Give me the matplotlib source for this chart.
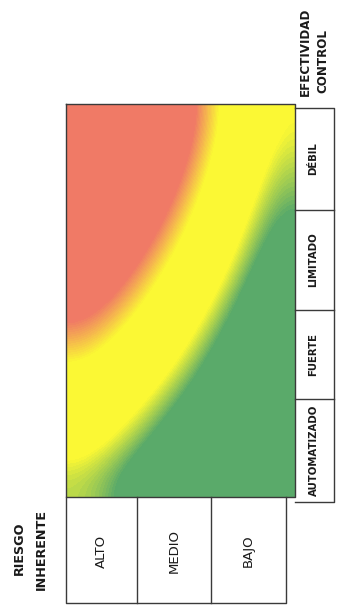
import numpy as np
import matplotlib
matplotlib.use("Agg")
import matplotlib.pyplot as plt
from matplotlib.colors import LinearSegmentedColormap

# ---- data ----
riesgo_labels = ["ALTO", "MEDIO", "BAJO"]
control_labels = ["DÉBIL", "LIMITADO", "FUERTE", "AUTOMATIZADO"]
row_title = ["RIESGO", "INHERENTE"]
col_title = ["EFECTIVIDAD", "CONTROL"]

# risk level (about 3 = red, 2 = yellow, 1 = green)
# rows: DÉBIL (top) -> AUTOMATIZADO (bottom); columns: ALTO (left) -> BAJO (right)
risk_level = np.array([
    [3.87, 3.43, 2.98, 2.52, 2.06, 1.64],
    [3.64, 3.27, 2.85, 2.41, 1.96, 1.53],
    [3.39, 3.06, 2.67, 2.26, 1.82, 1.40],
    [3.12, 2.83, 2.47, 2.08, 1.66, 1.25],
    [2.85, 2.59, 2.25, 1.88, 1.48, 1.08],
    [2.58, 2.34, 2.02, 1.67, 1.28, 0.90],
    [2.31, 2.08, 1.79, 1.45, 1.08, 0.70],
    [2.03, 1.82, 1.54, 1.22, 0.86, 0.48],
    [1.78, 1.58, 1.29, 0.98, 0.63, 0.27],
    [1.54, 1.34, 1.04, 0.74, 0.40, 0.05],
])

red = "#F07A66"
yellow = "#FBF834"
green = "#5AAA6A"
cmap = LinearSegmentedColormap.from_list(
    "riesgo",
    [(0.0, green), (0.345, green), (0.41, yellow), (0.57, yellow),
     (0.64, red), (1.0, red)])

fam = ["DejaVu Sans"]

fig = plt.figure(figsize=(3.37, 6.09), dpi=100)
ax = fig.add_axes([0, 0, 1, 1])
ax.set_xlim(0, 337)
ax.set_ylim(609, 0)
ax.axis("off")

# heat map
hx0, hx1, hy0, hy1 = 66, 295, 104, 497
ax.imshow(risk_level, cmap=cmap, vmin=0, vmax=4, extent=(hx0, hx1, hy1, hy0),
          origin="upper", aspect="auto", interpolation="bicubic",
          interpolation_stage="data", zorder=1)

lc = "#3a3a3a"
lw = 1.0
ax.plot([hx0, hx1, hx1, hx0, hx0], [hy0, hy0, hy1, hy1, hy0], color=lc, lw=lw, zorder=3)

# control column
cx0, cx1 = 295, 334
cy = [108, 210, 310, 399, 502]
ax.plot([cx0, cx1, cx1, cx0], [cy[0], cy[0], cy[-1], cy[-1]], color=lc, lw=lw, zorder=3)
for yy in cy[1:-1]:
    ax.plot([cx0, cx1], [yy, yy], color=lc, lw=lw, zorder=3)
for lab, a, b in zip(control_labels, cy[:-1], cy[1:]):
    ax.text((cx0 + cx1) / 2 - 1, (a + b) / 2, lab, rotation=90, ha="center", va="center",
            fontsize=7.3, fontweight="bold", family=fam, color="#1a1a1a")

# riesgo row
rx = [66, 137, 211, 286]
ry0, ry1 = 497, 603
ax.plot([rx[0], rx[0], rx[-1], rx[-1]], [ry0, ry1, ry1, ry0], color=lc, lw=lw, zorder=3)
for xx in rx[1:-1]:
    ax.plot([xx, xx], [ry0, ry1], color=lc, lw=lw, zorder=3)
for lab, a, b in zip(riesgo_labels, rx[:-1], rx[1:]):
    ax.text((a + b) / 2, 551, lab, rotation=90, ha="center", va="center",
            fontsize=9.5, family=fam, color="#1a1a1a")

# titles
ax.text(305, 52, col_title[0], rotation=90, ha="center", va="center",
        fontsize=8.6, fontweight="bold", family=fam, color="#1a1a1a")
ax.text(323, 61, col_title[1], rotation=90, ha="center", va="center",
        fontsize=8.6, fontweight="bold", family=fam, color="#1a1a1a")
ax.text(19, 548, row_title[0], rotation=90, ha="center", va="center",
        fontsize=9.2, fontweight="bold", family=fam, color="#1a1a1a")
ax.text(41, 549, row_title[1], rotation=90, ha="center", va="center",
        fontsize=9.2, fontweight="bold", family=fam, color="#1a1a1a")

fig.savefig("out.png", dpi=100)
